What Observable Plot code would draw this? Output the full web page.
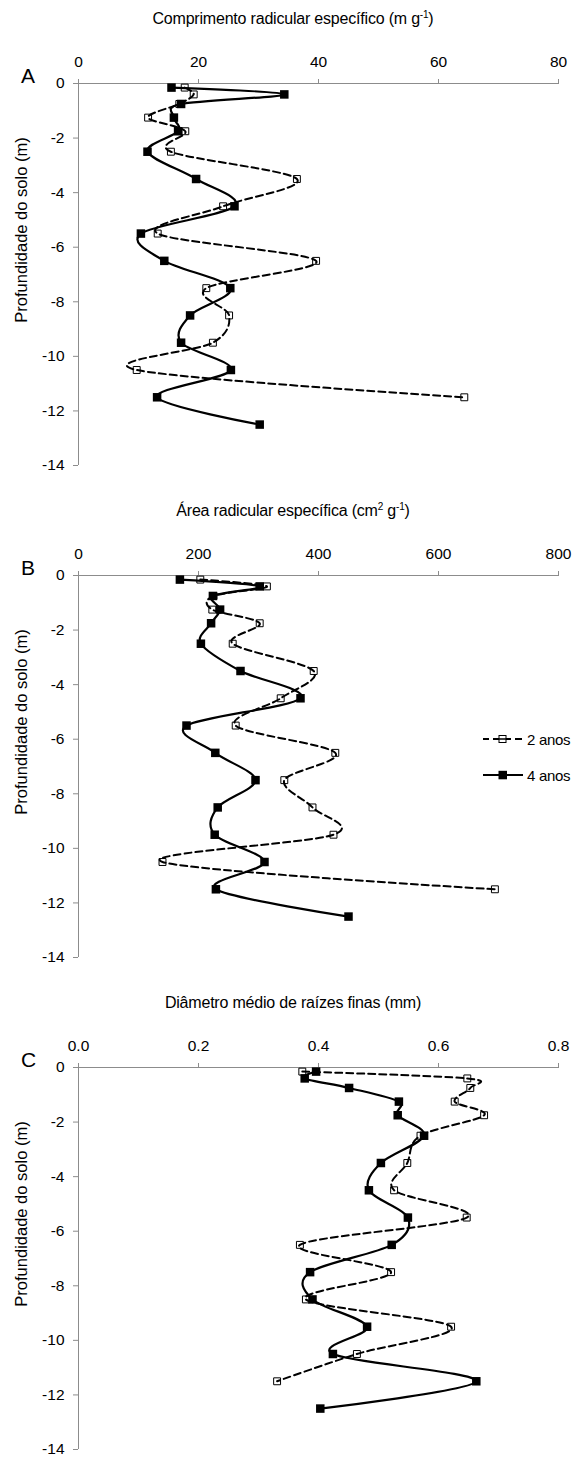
<!DOCTYPE html>
<html>
<head>
<meta charset="utf-8">
<script src="https://cdn.jsdelivr.net/npm/d3@7"></script>
<script src="https://cdn.jsdelivr.net/npm/@observablehq/plot@0.6"></script>
<style>
  body { margin: 0; background: #fff; font-family: "Liberation Sans", Arial, sans-serif; color: #000; }
  .panel { position: relative; width: 575px; height: 492px; }
  .panel svg { position: absolute; left: 0; top: 0; }
  .title { position: absolute; left: 0; width: 586px; top: 10px; text-align: center; font-size: 16px; letter-spacing: -0.2px; white-space: nowrap; z-index: 2; }
  .title sup { font-size: 10px; vertical-align: 6px; line-height: 0; }
  .letter { position: absolute; left: 21px; top: 64px; font-size: 21px; z-index: 2; }
  .ylabel { position: absolute; left: 21px; top: 230px; transform: translate(-50%, -50%) rotate(-90deg); font-size: 16.5px; white-space: nowrap; z-index: 2; }
  .legend { position: absolute; left: 482px; top: 236px; font-size: 15px; letter-spacing: -0.3px; z-index: 2; }
  .legend .row { display: flex; align-items: center; height: 22px; margin-bottom: 14px; }
  .legend svg { position: static; margin-right: 3px; }
</style>
</head>
<body>
<div id="chart"></div>
<script>
// Sampling depths (m) for each age class
const depth2anos = [0.15, 0.4, 0.75, 1.25, 1.75, 2.5, 3.5, 4.5, 5.5, 6.5, 7.5, 8.5, 9.5, 10.5, 11.5];
const depth4anos = [0.15, 0.4, 0.75, 1.25, 1.75, 2.5, 3.5, 4.5, 5.5, 6.5, 7.5, 8.5, 9.5, 10.5, 11.5, 12.5];

// A: specific root length (m g-1)
const comp2anos = [17.7, 19.2, 16.8, 11.6, 17.8, 15.4, 36.4, 24.1, 13.2, 39.6, 21.3, 25.1, 22.4, 9.7, 64.3];
const comp4anos = [15.5, 34.3, 17.1, 15.9, 16.6, 11.5, 19.6, 26.0, 10.4, 14.3, 25.3, 18.6, 17.1, 25.4, 13.1, 30.2];

// B: specific root area (cm2 g-1)
const area2anos = [203, 314, 225, 223, 302, 257, 392, 337, 262, 428, 343, 390, 425, 140, 694];
const area4anos = [169, 302, 224, 236, 221, 204, 270, 370, 180, 228, 295, 232, 227, 310, 229, 450];

// C: mean fine-root diameter (mm)
const diam2anos = [0.373, 0.648, 0.653, 0.627, 0.676, 0.570, 0.548, 0.526, 0.647, 0.369, 0.521, 0.379, 0.621, 0.464, 0.331];
const diam4anos = [0.396, 0.377, 0.451, 0.534, 0.532, 0.576, 0.504, 0.484, 0.549, 0.522, 0.386, 0.390, 0.481, 0.424, 0.663, 0.403];

// Axis ticks
const depthTicks = [0, -2, -4, -6, -8, -10, -12, -14];
const compTicks = [0, 20, 40, 60, 80];
const areaTicks = [0, 200, 400, 600, 800];
const diamTicks = [0, 0.2, 0.4, 0.6, 0.8];

const seriesNames = ["2 anos", "4 anos"];
const axisGray = "#8c8c8c";

function panel({letter, titleHTML, v2, v4, xDomain, xTicks, xFormat, legend}) {
  const rows2 = v2.map((v, i) => ({v, d: -depth2anos[i]}));
  const rows4 = v4.map((v, i) => ({v, d: -depth4anos[i]}));

  const div = document.createElement("div");
  div.className = "panel";

  const svg = Plot.plot({
    width: 575,
    height: 492,
    marginTop: 83,
    marginLeft: 78,
    marginRight: 17,
    marginBottom: 27,
    x: {domain: xDomain},
    y: {domain: [-14, 0]},
    style: {fontFamily: "'Liberation Sans', Arial, sans-serif", fontSize: "15.5px", color: "#000", background: "transparent", overflow: "visible"},
    marks: [
      Plot.ruleY([0], {stroke: axisGray, strokeWidth: 1}),
      Plot.ruleX([xDomain[0]], {stroke: axisGray, strokeWidth: 1}),
      Plot.axisX({anchor: "top", ticks: xTicks, tickFormat: xFormat, tickSize: 5, tickPadding: 12, stroke: axisGray, label: null}),
      Plot.axisY({anchor: "left", ticks: depthTicks, tickFormat: d => String(d), tickSize: 5, tickPadding: 9, stroke: axisGray, label: null}),
      // 2 anos: open squares, dashed smoothed line
      Plot.dot(rows2, {x: "v", y: "d", symbol: "square", r: 3.9, fill: "white", stroke: "black", strokeWidth: 1}),
      Plot.line(rows2, {x: "v", y: "d", curve: "cardinal", stroke: "black", strokeWidth: 2, strokeDasharray: "7,4"}),
      // 4 anos: filled squares, solid smoothed line
      Plot.line(rows4, {x: "v", y: "d", curve: "cardinal", stroke: "black", strokeWidth: 2.2}),
      Plot.dot(rows4, {x: "v", y: "d", symbol: "square", r: 4.8, fill: "black", stroke: "none"})
    ]
  });
  div.appendChild(svg);

  const t = document.createElement("div");
  t.className = "title";
  t.innerHTML = titleHTML;
  div.appendChild(t);

  const l = document.createElement("div");
  l.className = "letter";
  l.textContent = letter;
  div.appendChild(l);

  const yl = document.createElement("div");
  yl.className = "ylabel";
  yl.textContent = "Profundidade do solo (m)";
  div.appendChild(yl);

  if (legend) {
    const lg = document.createElement("div");
    lg.className = "legend";
    lg.innerHTML = `
      <div class="row"><svg width="42" height="12"><line x1="1" y1="6" x2="41" y2="6" stroke="black" stroke-width="2" stroke-dasharray="7,4" stroke-dashoffset="1"/><rect x="17" y="2.5" width="7" height="7" fill="white" stroke="black" stroke-width="1"/><line x1="17" y1="6" x2="24" y2="6" stroke="black" stroke-width="1.5"/></svg><span>${seriesNames[0]}</span></div>
      <div class="row"><svg width="42" height="12"><line x1="1" y1="6" x2="41" y2="6" stroke="black" stroke-width="2.2"/><rect x="16.5" y="1.8" width="8.5" height="8.5" fill="black"/></svg><span>${seriesNames[1]}</span></div>`;
    div.appendChild(lg);
  }
  return div;
}

const chart = document.getElementById("chart");
chart.appendChild(panel({
  letter: "A",
  titleHTML: "Comprimento radicular específico (m g<sup>-1</sup>)",
  v2: comp2anos, v4: comp4anos,
  xDomain: [0, 80], xTicks: compTicks, xFormat: d => String(d)
}));
chart.appendChild(panel({
  letter: "B",
  titleHTML: "Área radicular específica (cm<sup>2</sup> g<sup>-1</sup>)",
  v2: area2anos, v4: area4anos,
  xDomain: [0, 800], xTicks: areaTicks, xFormat: d => String(d),
  legend: true
}));
chart.appendChild(panel({
  letter: "C",
  titleHTML: "Diâmetro médio de raízes finas (mm)",
  v2: diam2anos, v4: diam4anos,
  xDomain: [0, 0.8], xTicks: diamTicks, xFormat: d3.format(".1f")
}));
</script>
</body>
</html>
